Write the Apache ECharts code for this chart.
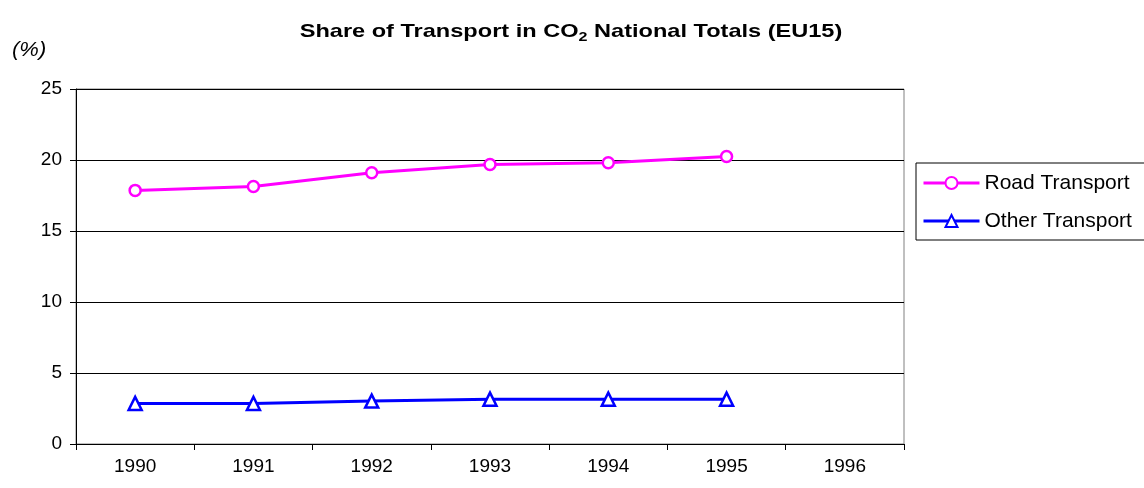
<!DOCTYPE html>
<html><head><meta charset="utf-8">
<script src="https://cdn.jsdelivr.net/npm/echarts@6/dist/echarts.min.js"></script>
<style>html,body{margin:0;padding:0;background:#fff}#c{width:1144px;height:488px}</style>
</head><body><div id="c"></div>
<script>
const years = ['1990','1991','1992','1993','1994','1995','1996'];
const roadTransport = [17.86, 18.14, 19.1, 19.69, 19.81, 20.25, null];
const otherTransport = [2.86, 2.86, 3.02, 3.16, 3.16, 3.16, null];
const yTicks = {min: 0, max: 25, interval: 5};

const font = 'Liberation Sans, Arial, sans-serif';
const chart = echarts.init(document.getElementById('c'));
chart.setOption({
  animation: false,
  backgroundColor: '#fff',
  graphic: [{
    type: 'text', x: 571, y: 32, scaleX: 1.24,
    style: {
      text: 'Share of Transport in CO{sub|2} National Totals (EU15)',
      font: 'bold 19px ' + font, fill: '#000', align: 'center', verticalAlign: 'middle',
      rich: { sub: { fontFamily: font, fontSize: 13, fontWeight: 'bold', fill: '#000', padding: [10, 0, 0, 0] } }
    }
  }, {
    type: 'text', x: 12, y: 50, scaleX: 1.1,
    style: { text: '(%)', font: 'italic 20px ' + font, fill: '#000', verticalAlign: 'middle' }
  }],
  grid: { left: 76, right: 240, top: 89, bottom: 44, show: true, borderColor: '#808080', borderWidth: 1 },
  legend: {
    orient: 'vertical', left: 916, top: 163,
    borderColor: '#000', borderWidth: 1,
    padding: [8, 40, 7, 6],
    itemWidth: 56, itemHeight: 15, itemGap: 14,
    lineStyle: { width: 3 },
    textStyle: { fontFamily: font, fontSize: 21, lineHeight: 24, color: '#000' },
    data: ['Road Transport', 'Other Transport']
  },
  xAxis: {
    type: 'category', data: years, boundaryGap: true,
    axisLine: { lineStyle: { color: '#000', width: 1 } },
    axisTick: { show: true, alignWithLabel: false, length: 6, lineStyle: { color: '#000' } },
    axisLabel: { fontFamily: font, fontSize: 19, color: '#000', margin: 13 },
    splitLine: { show: false }
  },
  yAxis: {
    type: 'value', min: yTicks.min, max: yTicks.max, interval: yTicks.interval,
    axisLine: { show: true, lineStyle: { color: '#000', width: 1 } },
    axisTick: { show: true, length: 6, lineStyle: { color: '#000' } },
    axisLabel: { fontFamily: font, fontSize: 19, color: '#000', margin: 14 },
    splitLine: { show: true, lineStyle: { color: '#000', width: 1 } }
  },
  series: [{
    name: 'Road Transport', type: 'line', data: roadTransport,
    symbol: 'circle', symbolSize: 11, showAllSymbol: true,
    lineStyle: { color: '#ff00ff', width: 3 },
    itemStyle: { color: '#fff', borderColor: '#ff00ff', borderWidth: 2.5 }
  }, {
    name: 'Other Transport', type: 'line', data: otherTransport,
    symbol: 'triangle', symbolSize: 13, showAllSymbol: true,
    lineStyle: { color: '#0000ff', width: 3 },
    itemStyle: { color: '#fff', borderColor: '#0000ff', borderWidth: 2.5 }
  }]
});
</script></body></html>
